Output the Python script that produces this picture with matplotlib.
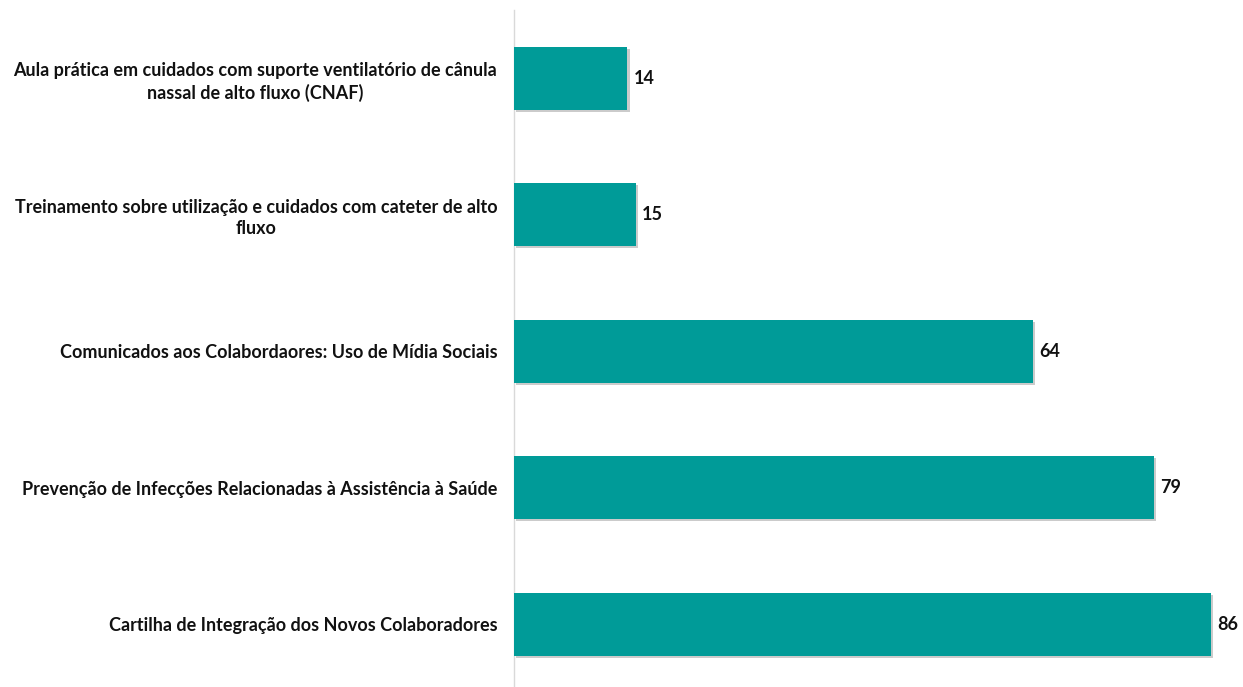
import matplotlib.pyplot as plt
import matplotlib.patheffects as pe

LABELS = [
    "Aula prática em cuidados com suporte ventilatório de cânula\nnassal de alto fluxo (CNAF)",
    "Treinamento sobre utilização e cuidados com cateter de alto\nfluxo",
    "Comunicados aos Colabordaores: Uso de Mídia Sociais",
    "Prevenção de Infecções Relacionadas à Assistência à Saúde",
    "Cartilha de Integração dos Novos Colaboradores",
]
VALUES = [14, 15, 64, 79, 86]

BAR_COLOR = "#009B98"
FONT = "Lato"
FONTSIZE = 13

fig = plt.figure(figsize=(12.43, 6.87), dpi=100)
ax = fig.add_axes([514 / 1243, 0.0, 713 / 1243, 677 / 687])

pos = list(range(len(VALUES)))
bars = ax.barh(pos, VALUES, height=0.46, color=BAR_COLOR, zorder=3)
for b in bars:
    b.set_path_effects([
        pe.SimplePatchShadow(offset=(1.5, -1.5), shadow_rgbFace="#999999", alpha=0.5),
        pe.Normal(),
    ])

for y, v in zip(pos, VALUES):
    ax.text(v + 0.8, y, str(v), va="center", ha="left", fontsize=FONTSIZE,
            fontweight="bold", family=FONT, color="#111111")

ax.set_ylim(4.46, -0.5)
ax.set_xlim(0, 88)
ax.set_yticks(pos)
ax.set_yticklabels(LABELS, fontsize=FONTSIZE, fontweight="bold", family=FONT,
                   color="#111111", multialignment="center", linespacing=1.3)
ax.tick_params(axis="y", length=0, pad=12)
ax.set_xticks([])

for side in ["top", "right", "bottom"]:
    ax.spines[side].set_visible(False)
ax.spines["left"].set_color("#d9d9d9")
ax.spines["left"].set_linewidth(1.0)

fig.savefig("out.png", dpi=100)
